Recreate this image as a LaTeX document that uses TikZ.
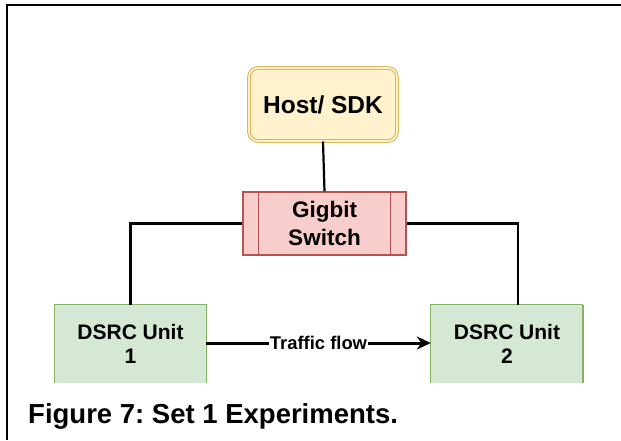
\documentclass[tikz,border=0pt]{standalone}
\usepackage{fontspec}
\setmainfont{Liberation Sans}
\usetikzlibrary{arrows.meta,calc}
\frenchspacing
\definecolor{hostfill}{HTML}{FFF2CC}
\definecolor{hostline}{HTML}{D6B656}
\definecolor{swfill}{HTML}{F8CECC}
\definecolor{swline}{HTML}{B85450}
\definecolor{unitfill}{HTML}{D5E8D4}
\definecolor{unitline}{HTML}{82B366}
\tikzset{
  hostbox/.style={draw=hostline, fill=hostfill, rounded corners=9pt,
    double=hostfill, double distance=1.6pt, line width=1pt,
    minimum width=148pt, minimum height=73pt, align=center,
    font=\fontsize{24.5}{28}\selectfont\bfseries},
  switchbox/.style={draw=swline, fill=swfill, line width=1.2pt,
    minimum width=163pt, minimum height=63pt, align=center,
    font=\fontsize{22.5}{28}\selectfont\bfseries},
  unitbox/.style={fill=unitfill, minimum width=151pt, minimum height=78pt,
    align=center, inner sep=0pt,
    font=\fontsize{21}{24}\selectfont\bfseries},
  wire/.style={line width=2.2pt, black},
  flow/.style={line width=3pt, black, -{Stealth[length=14pt,width=13pt]}},
}
\begin{document}
\begin{tikzpicture}[x=1pt,y=-1pt]
\useasboundingbox (0,0) rectangle (621,440);
% partial frame: top and left edges
\draw[line width=2.4pt] (621,5) -- (7,5) -- (7,440);

\node[hostbox] (host) at (323,104.5) {Host/ SDK};
\node[switchbox] (switch) at (324.5,223.5) {Gigbit\\Switch};
\draw[swline, line width=1.2pt] ([xshift=16pt]switch.north west) -- ([xshift=16pt]switch.south west);
\draw[swline, line width=1.2pt] ([xshift=-16pt]switch.north east) -- ([xshift=-16pt]switch.south east);

\node[unitbox] (dsrc1) at (130.5,344) {DSRC Unit\\1};
\node[unitbox, minimum width=152pt] (dsrc2) at (507,344) {DSRC Unit\\2};
% unit outlines, open at the bottom
\draw[unitline, line width=1.2pt] (dsrc1.south west) -- (dsrc1.north west) -- (dsrc1.north east) -- (dsrc1.south east);
\draw[unitline, line width=1.2pt] (dsrc2.south west) -- (dsrc2.north west) -- (dsrc2.north east);
\draw[unitline, line width=2.2pt] (dsrc2.north east) -- (dsrc2.south east);

% links
\draw[wire] (host.south) -- (switch.north);
\draw[wire] (switch.west) -| (dsrc1.north);
\coordinate (d2top) at ($(dsrc2.north)+(11,0)$);
\draw[wire] (switch.east) -| (d2top);
\draw[flow] (dsrc1.east |- 0,343) -- node[fill=white, inner sep=1pt, font=\fontsize{18.4}{20}\selectfont\bfseries] (tf) {Traffic flow} (dsrc2.west |- 0,343);

\node[anchor=base west, inner sep=0pt, font=\fontsize{27.5}{30}\selectfont\bfseries] (caption) at (28,423) {Figure 7: Set 1 Experiments.};
\end{tikzpicture}
\end{document}
